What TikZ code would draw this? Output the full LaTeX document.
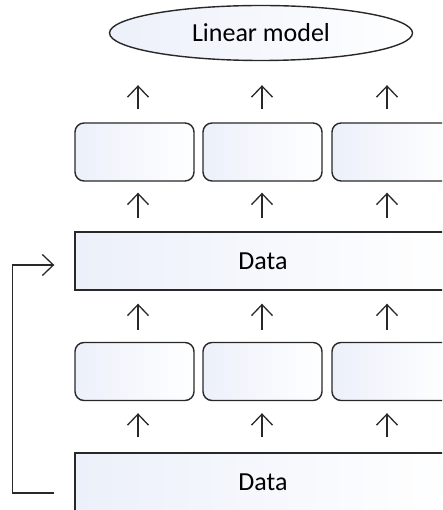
\documentclass[tikz,border=0pt]{standalone}
\usepackage{fontspec}
\setmainfont{Carlito}
\usepackage{xcolor}
\usetikzlibrary{calc, positioning, shapes.geometric, arrows.meta}

\definecolor{boxline}{RGB}{40,40,40}
\definecolor{boxblue}{RGB}{236,240,250}

\begin{document}
\begin{tikzpicture}[x=1pt,y=-1pt,
                    font=\fontsize{26}{30}\selectfont,
                    line width=1.4pt,
                    arr/.style={-{Straight Barb[length=11pt,width=21pt]},line width=1.3pt,boxline},
                    model node/.style={ellipse,draw=boxline,left color=boxblue,right color=white,
                                       minimum width=303pt,minimum height=55pt,inner sep=0pt},
                    part node/.style={rectangle,rounded corners=9pt,draw=boxline,left color=boxblue,
                                      right color=white,minimum width=119pt,minimum height=58pt},
                    data node/.style={rectangle,draw=boxline,left color=boxblue,right color=white,
                                      minimum width=376pt,minimum height=58pt}]

  \useasboundingbox (0,0) rectangle (442,510);
  \clip (0,0) rectangle (442,510);

  \node[model node] (model) at (261,33) {Linear model};

  \node[part node] (u1) at (134.5,152) {};
  \node[part node] (u2) at (262.5,152) {};
  \node[part node] (u3) at (391.5,152) {};

  \node[data node] (d1) at (263,261) {Data};

  \node[part node] (l1) at (134.5,371.5) {};
  \node[part node] (l2) at (262.5,371.5) {};
  \node[part node] (l3) at (391.5,371.5) {};

  \node[data node] (d2) at (263,482) {Data};

  % arrow columns
  \coordinate (c1) at (138,0);
  \coordinate (c2) at (262,0);
  \coordinate (c3) at (387,0);

  \foreach \c/\u/\l in {c1/u1/l1, c2/u2/l2, c3/u3/l3} {
    \draw[arr, shorten <=15pt, shorten >=12pt] (d2.north -| \c) -- (\l.south -| \c);
    \draw[arr, shorten <=12pt, shorten >=13pt] (\l.north -| \c) -- (d1.south -| \c);
    \draw[arr, shorten <=13pt, shorten >=11pt] (d1.north -| \c) -- (\u.south -| \c);
    \draw[arr, shorten <=13pt, shorten >=24pt] (\u.north -| \c) -- (model.south -| \c);
  }

  % feed back
  \draw[arr] ([shift={(-20pt,-11pt)}]d2.west) -- ++(-42pt,0pt)
             |- ([shift={(-20pt,-4pt)}]d1.west);

\end{tikzpicture}
\end{document}
